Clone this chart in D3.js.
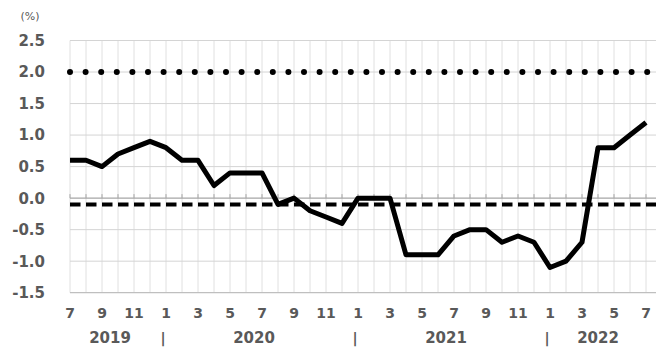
<!DOCTYPE html>
<html>
<head>
<meta charset="utf-8">
<script src="https://cdn.jsdelivr.net/npm/d3@7"></script>
<style>
  body { margin: 0; background: #fff; }
  text { font-family: "DejaVu Sans", Verdana, sans-serif; font-weight: bold; fill: #595959; }
</style>
</head>
<body>
<svg id="chart" width="659" height="351"></svg>
<script>
// Monthly values, 2019-07 .. 2022-07 (%)
const months = [7, 8, 9, 10, 11, 12,
  1, 2, 3, 4, 5, 6, 7, 8, 9, 10, 11, 12,
  1, 2, 3, 4, 5, 6, 7, 8, 9, 10, 11, 12,
  1, 2, 3, 4, 5, 6, 7];
const values = [0.6, 0.6, 0.5, 0.7, 0.8, 0.9,
  0.8, 0.6, 0.6, 0.2, 0.4, 0.4, 0.4, -0.1, 0.0, -0.2, -0.3, -0.4,
  0.0, 0.0, 0.0, -0.9, -0.9, -0.9, -0.6, -0.5, -0.5, -0.7, -0.6, -0.7,
  -1.1, -1.0, -0.7, 0.8, 0.8, 1.0, 1.2];
const years = [
  { label: '2019', from: 0, to: 5 },
  { label: '2020', from: 6, to: 17 },
  { label: '2021', from: 18, to: 29 },
  { label: '2022', from: 30, to: 36 },
];
const yTicks = [-1.5, -1.0, -0.5, 0.0, 0.5, 1.0, 1.5, 2.0, 2.5];
const targetLine = 2.0;
const refLine = -0.1;

const svg = d3.select('#chart');
const plotLeft = 70, plotRight = 656, plotTop = 40.5, plotBottom = 292.7;

const x = d3.scaleLinear().domain([0, 36]).range([plotLeft, plotLeft + 36 * 16]);
const y = d3.scaleLinear().domain([-1.5, 2.5]).range([plotBottom, plotTop]);

// gridlines
svg.append('g')
  .selectAll('line')
  .data(d3.range(0, 37))
  .join('line')
  .attr('x1', (d) => x(d)).attr('x2', (d) => x(d))
  .attr('y1', plotTop).attr('y2', plotBottom)
  .attr('stroke', '#e0e0e0').attr('stroke-width', 1);

svg.append('g')
  .selectAll('line')
  .data(yTicks.filter((d) => d !== -1.5 && d !== 0))
  .join('line')
  .attr('x1', plotLeft).attr('x2', plotRight)
  .attr('y1', (d) => y(d)).attr('y2', (d) => y(d))
  .attr('stroke', '#d4d4d4').attr('stroke-width', 1);

// bottom border and zero axis
svg.append('line')
  .attr('x1', plotLeft).attr('x2', plotRight)
  .attr('y1', y(-1.5)).attr('y2', y(-1.5))
  .attr('stroke', '#bfbfbf').attr('stroke-width', 1.2);

svg.append('line')
  .attr('x1', plotLeft).attr('x2', plotRight)
  .attr('y1', y(0)).attr('y2', y(0))
  .attr('stroke', '#a6a6a6').attr('stroke-width', 1.2);

svg.append('g')
  .selectAll('line')
  .data(d3.range(0, 37))
  .join('line')
  .attr('x1', (d) => x(d)).attr('x2', (d) => x(d))
  .attr('y1', y(0) - 4).attr('y2', y(0))
  .attr('stroke', '#a6a6a6').attr('stroke-width', 1);

// y labels
svg.append('g')
  .selectAll('text')
  .data(yTicks)
  .join('text')
  .attr('x', 45)
  .attr('y', (d) => y(d))
  .attr('dy', '0.36em')
  .attr('text-anchor', 'end')
  .style('font-size', '15px')
  .text((d) => d3.format('.1f')(d).replace('−', '-'));

svg.append('text')
  .attr('x', 30).attr('y', 20)
  .attr('text-anchor', 'middle')
  .style('font-size', '11px')
  .style('font-weight', 'normal')
  .text('(%)');

// reference lines
svg.append('line')
  .attr('x1', plotLeft).attr('x2', plotRight)
  .attr('y1', y(targetLine)).attr('y2', y(targetLine))
  .attr('stroke', '#000').attr('stroke-width', 6)
  .attr('stroke-linecap', 'round')
  .attr('stroke-dasharray', '0 15.6');

svg.append('line')
  .attr('x1', plotLeft).attr('x2', plotRight)
  .attr('y1', y(refLine)).attr('y2', y(refLine))
  .attr('stroke', '#000').attr('stroke-width', 4)
  .attr('stroke-dasharray', '10.5 5.5');

// main series
const line = d3.line()
  .x((d, i) => x(i))
  .y((d) => y(d));

svg.append('path')
  .datum(values)
  .attr('d', line)
  .attr('fill', 'none')
  .attr('stroke', '#000')
  .attr('stroke-width', 5)
  .attr('stroke-linejoin', 'round');

// month labels (every other month)
svg.append('g')
  .selectAll('text')
  .data(months.map((m, i) => ({ m, i })).filter((d) => d.i % 2 === 0))
  .join('text')
  .attr('x', (d) => x(d.i))
  .attr('y', 318)
  .attr('text-anchor', 'middle')
  .style('font-size', '14px')
  .text((d) => d.m);

// year labels
svg.append('g')
  .selectAll('text')
  .data(years)
  .join('text')
  .attr('x', (d) => (x(d.from) + x(d.to)) / 2)
  .attr('y', 343)
  .attr('text-anchor', 'middle')
  .style('font-size', '15px')
  .text((d) => d.label);

svg.append('g')
  .selectAll('text')
  .data(years.slice(1))
  .join('text')
  .attr('x', (d) => x(d.from) - 3)
  .attr('y', 343)
  .attr('text-anchor', 'middle')
  .style('font-size', '14px')
  .text('|');
</script>
</body>
</html>
